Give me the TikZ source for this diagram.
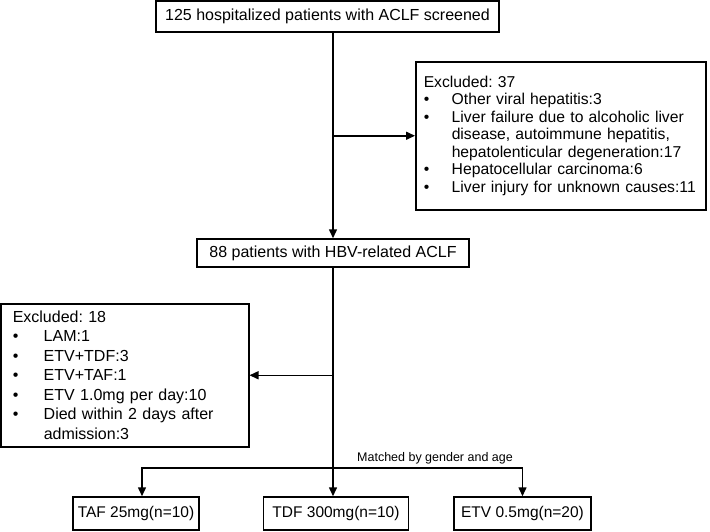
\documentclass[tikz,border=0pt]{standalone}
\usepackage{fontspec}
\setmainfont{Liberation Sans}
\usetikzlibrary{arrows.meta,positioning}
\newcommand{\itemdot}[1][28pt]{\makebox[#1][l]{\textbullet}}
\frenchspacing

\begin{document}
\begin{tikzpicture}[x=1pt,y=-1pt,>={Triangle[length=9pt,width=8pt]},
  box/.style={draw,line width=1.5pt,inner sep=0pt,font=\fontsize{16}{19}\selectfont},
  armbox/.style={box,minimum height=33pt,font=\fontsize{15.5}{18}\selectfont},
  listbox/.style={box,align=left,anchor=north west},
  link/.style={->,line width=1.5pt}]
% screening -> hbv main line, exclusions branch off sideways
% three arms matched at the bottom
\useasboundingbox (0,0) rectangle (710,531);

\node[box,minimum width=343pt,minimum height=31pt] (screen) at (327.5,16.5) {125 hospitalized patients with ACLF screened};
\node[listbox,text width=274pt,inner xsep=8pt,minimum height=148pt,font=\fontsize{15.7}{17.5}\selectfont] (excl1) at (415,61)
  {Excluded: 37\\
   \itemdot Other viral hepatitis:3\\
   \itemdot Liver failure due to alcoholic liver\\
   \hspace*{28pt}disease, autoimmune hepatitis,\\
   \hspace*{28pt}hepatolenticular degeneration:17\\
   \itemdot Hepatocellular carcinoma:6\\
   \itemdot Liver injury for unknown causes:11};

\node[box,minimum width=272pt,minimum height=28pt] (hbv) at (333,253) {88 patients with HBV-related ACLF};
\node[listbox,text width=224pt,inner xsep=12pt,minimum height=143pt,font=\fontsize{16}{19.5}\selectfont] (excl2) at (0,303)
  {Excluded: 18\\
   \itemdot[31pt]LAM:1\\
   \itemdot[31pt]ETV+TDF:3\\
   \itemdot[31pt]ETV+TAF:1\\
   \itemdot[31pt]ETV 1.0mg per day:10\\
   \itemdot[31pt]Died within 2 days after\\
   \hspace*{31pt}admission:3};

\node[armbox,minimum width=126pt] (taf) at (136,513.5) {TAF 25mg(n=10)};
\node[armbox,minimum width=145pt] (tdf) at (336,513.5) {TDF 300mg(n=10)};
\node[armbox,minimum width=137pt] (etv) at (522.5,513.5) {ETV 0.5mg(n=20)};

\coordinate (split) at (333,468);
\node[font=\fontsize{12.5}{15}\selectfont] (match) at (435,458) {Matched by gender and age};

\draw [link] (screen.south -| hbv.north) -- (hbv.north);
\draw [link] (excl1.west -| hbv.north) -- (excl1.west);
\draw [link] (hbv.south) -- (hbv.south |- tdf.north);
\draw [link] (excl2.east -| hbv.south) -- (excl2.east);
\draw [link] (split) -| ([xshift=6pt]taf.north);
\draw [link] (split) -| (etv.north);
\end{tikzpicture}
\end{document}
